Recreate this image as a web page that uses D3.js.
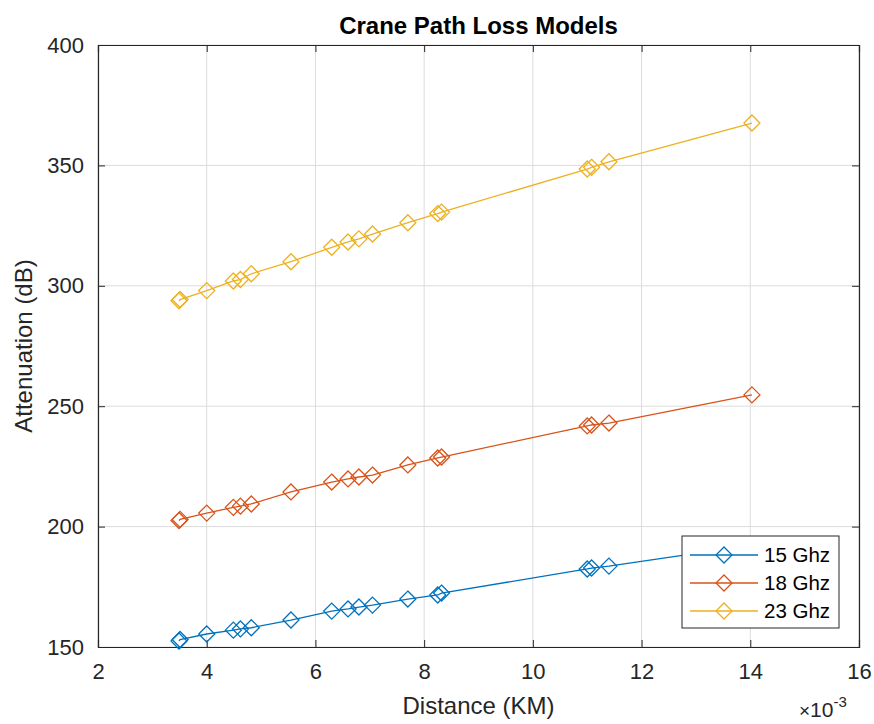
<!DOCTYPE html>
<html>
<head>
<meta charset="utf-8">
<script src="https://cdn.jsdelivr.net/npm/d3@7"></script>
<style>
  body { margin: 0; background: #fff; }
  text { font-family: "Liberation Sans", Arial, sans-serif; }
</style>
</head>
<body>
<div id="chart"></div>
<script>
// data (distance in km)
var distances = [0.00349, 0.00351, 0.0040, 0.00449, 0.00462, 0.00482, 0.00555, 0.0063, 0.0066,
                 0.0068, 0.00705, 0.0077, 0.00825, 0.00832, 0.0110, 0.01108, 0.0114, 0.01403];
var atten15 = [152.5, 153.1, 155.4, 157.0, 157.5, 158.0, 161.2, 164.9, 165.8,
               166.6, 167.4, 169.9, 171.6, 172.4, 182.4, 182.8, 183.6, 192.3];
var atten18 = [202.5, 203.0, 205.6, 208.0, 208.5, 209.4, 214.4, 218.5, 219.8,
               220.6, 221.4, 225.6, 228.5, 228.9, 241.8, 242.2, 243.0, 254.7];
var atten23 = [293.8, 294.3, 298.0, 302.0, 302.6, 305.0, 310.0, 316.0, 318.2,
               319.5, 321.5, 326.2, 330.0, 330.6, 348.5, 349.2, 351.5, 367.6];
var seriesNames = ['15 Ghz', '18 Ghz', '23 Ghz'];
var seriesColors = ['#0072BD', '#D95319', '#EDB120'];
var xTicks = [0.002, 0.004, 0.006, 0.008, 0.010, 0.012, 0.014, 0.016];
var yTicks = [150, 200, 250, 300, 350, 400];

var W = 874, H = 724;
var pL = 98, pR = 859, pT = 45, pB = 647;
var axisCol = '#262626';

var svg = d3.select('#chart').append('svg')
            .attr('width', W)
            .attr('height', H);

var x = d3.scaleLinear().domain([0.002, 0.016]).range([pL, pR]);
var y = d3.scaleLinear().domain([150, 400]).range([pB, pT]);

// grid
var g = svg.append('g');
g.selectAll('.vgrid').data(xTicks).enter().append('line')
 .attr('x1', function(d) { return x(d); }).attr('x2', function(d) { return x(d); })
 .attr('y1', pT).attr('y2', pB)
 .attr('stroke', '#dcdcdc').attr('stroke-width', 1);
g.selectAll('.hgrid').data(yTicks).enter().append('line')
 .attr('y1', function(d) { return y(d); }).attr('y2', function(d) { return y(d); })
 .attr('x1', pL).attr('x2', pR)
 .attr('stroke', '#dcdcdc').attr('stroke-width', 1);

// axes (ticks pointing inward, box on all four sides)
var fmtX = function(d) { return Math.round(d * 1000); };
var xAxis = svg.append('g').attr('transform', 'translate(0,' + pB + ')')
               .call(d3.axisBottom(x).tickValues(xTicks).tickSize(-7).tickPadding(16).tickFormat(fmtX));
var xTop = svg.append('g').attr('transform', 'translate(0,' + pT + ')')
              .call(d3.axisTop(x).tickValues(xTicks).tickSize(-7).tickFormat(''));
var yAxis = svg.append('g').attr('transform', 'translate(' + pL + ',0)')
               .call(d3.axisLeft(y).tickValues(yTicks).tickSize(-7).tickPadding(14));
var yRight = svg.append('g').attr('transform', 'translate(' + pR + ',0)')
                .call(d3.axisRight(y).tickValues(yTicks).tickSize(-7).tickFormat(''));

[xAxis, xTop, yAxis, yRight].forEach(function(a) {
  a.select('.domain').attr('stroke', axisCol).attr('stroke-width', 1.2);
  a.selectAll('.tick line').attr('stroke', axisCol).attr('stroke-width', 1);
  a.selectAll('.tick text').attr('fill', axisCol).attr('font-size', '22px')
   .style('font-family', '"Liberation Sans", Arial, sans-serif');
});

// series
var allSeries = [atten15, atten18, atten23];
var line = d3.line()
             .x(function(d) { return x(d[0]); })
             .y(function(d) { return y(d[1]); });
var diamond = 'M0,-8L8,0L0,8L-8,0Z';

allSeries.forEach(function(vals, k) {
  var pts = distances.map(function(dv, i) { return [dv, vals[i]]; });
  var sg = svg.append('g');
  sg.append('path').datum(pts)
    .attr('d', line)
    .attr('fill', 'none')
    .attr('stroke', seriesColors[k])
    .attr('stroke-width', 1.3);
  sg.selectAll('path.mk').data(pts).enter().append('path')
    .attr('class', 'mk')
    .attr('d', diamond)
    .attr('transform', function(d) { return 'translate(' + x(d[0]) + ',' + y(d[1]) + ')'; })
    .attr('fill', 'none')
    .attr('stroke', seriesColors[k])
    .attr('stroke-width', 1.3);
});

// legend
var lg = svg.append('g').attr('transform', 'translate(682,536)');
lg.append('rect').attr('width', 157).attr('height', 92)
  .attr('fill', '#fff').attr('stroke', axisCol).attr('stroke-width', 1);
seriesNames.forEach(function(name, k) {
  var ly = 19 + k * 28;
  lg.append('line').attr('x1', 8).attr('x2', 76).attr('y1', ly).attr('y2', ly)
    .attr('stroke', seriesColors[k]).attr('stroke-width', 1.3);
  lg.append('path').attr('d', diamond).attr('transform', 'translate(42,' + ly + ')')
    .attr('fill', 'none').attr('stroke', seriesColors[k]).attr('stroke-width', 1.3);
  lg.append('text').attr('x', 82).attr('y', ly + 7)
    .attr('font-size', '20.5px').attr('fill', '#000').text(name);
});

// labels
svg.append('text').attr('x', (pL + pR) / 2).attr('y', 34)
   .attr('text-anchor', 'middle').attr('font-weight', 'bold').attr('font-size', '24px')
   .attr('fill', '#000').text('Crane Path Loss Models');
svg.append('text').attr('x', (pL + pR) / 2).attr('y', 714)
   .attr('text-anchor', 'middle').attr('font-size', '24px')
   .attr('fill', axisCol).text('Distance (KM)');
svg.append('text').attr('transform', 'translate(32,' + ((pT + pB) / 2) + ') rotate(-90)')
   .attr('text-anchor', 'middle').attr('font-size', '24px')
   .attr('fill', axisCol).text('Attenuation (dB)');

var ex = svg.append('text').attr('x', 799).attr('y', 717).attr('fill', axisCol).attr('font-size', '21px');
ex.append('tspan').attr('font-size', '19px').text('\u00d7');
ex.append('tspan').text('10');
ex.append('tspan').attr('font-size', '15px').attr('dy', -10).text('-3');
</script>
</body>
</html>
